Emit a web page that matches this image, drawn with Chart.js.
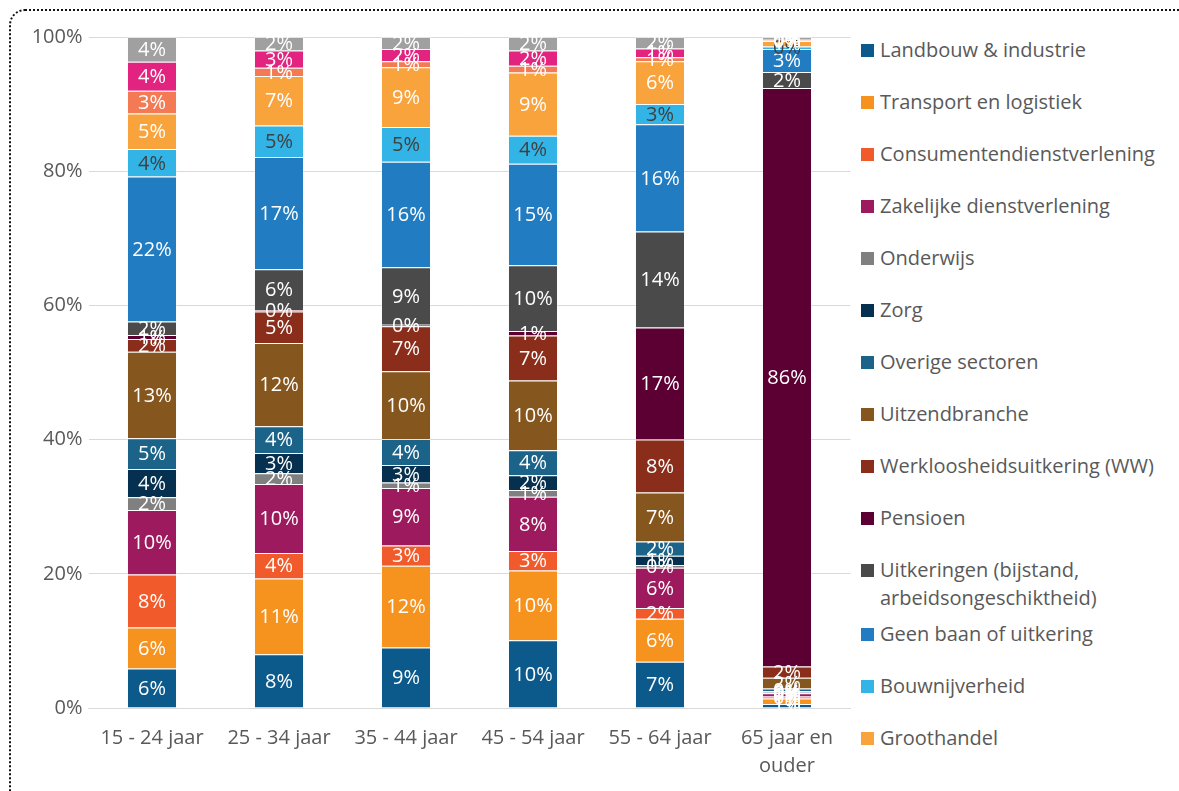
<!DOCTYPE html>
<html lang="nl">
<head>
<meta charset="utf-8">
<title>Uitstroom naar leeftijd</title>
<script src="https://cdn.jsdelivr.net/npm/chart.js@4.4.1/dist/chart.umd.min.js"></script>
<style>
    html, body { margin: 0; padding: 0; background: #fff; overflow: hidden; }
    body { width: 1179px; height: 791px; position: relative; font-family: "Open Sans", Lato, sans-serif; }
    .frame {
        position: absolute; left: 9px; top: 9px; width: 1200px; height: 820px;
        border: 2px dotted #111; border-radius: 16px; box-sizing: border-box;
    }
    .chart-box { position: absolute; left: 0; top: 0; width: 860px; height: 791px; }
    #legend { position: absolute; left: 861px; top: 36px; margin: 0; padding: 0; list-style: none; }
    #legend li { display: flex; align-items: flex-start; height: 52px; color: #595959; font-size: 20px; line-height: 28px; white-space: nowrap; }
    #legend li.two { height: 64px; }
    #legend .box { width: 13px; height: 13px; margin-top: 8px; margin-right: 6px; flex: none; }
</style>
</head>
<body>
<div class="frame"></div>
<div class="chart-box"><canvas id="chart"></canvas></div>
<ul id="legend"></ul>

<script>
// ─────────────────────────────────────────────
// Data — shares (%) per age group, stacked bottom → top
// ─────────────────────────────────────────────
const categories = ["15 - 24 jaar", "25 - 34 jaar", "35 - 44 jaar", "45 - 54 jaar", "55 - 64 jaar", ["65 jaar en", "ouder"]];
const yTicks = [0, 20, 40, 60, 80, 100];

const landbouw     = [5.9, 8.0, 9.0, 10.1, 6.9, 0.6];
const transport    = [6.1, 11.3, 12.2, 10.4, 6.4, 0.8];
const consument    = [7.9, 3.8, 3.0, 2.9, 1.6, 0.3];
const zakelijk     = [9.6, 10.3, 8.6, 8.1, 6.0, 0.5];
const onderwijs    = [1.9, 1.6, 0.8, 1.0, 0.4, 0.1];
const zorg         = [4.2, 3.0, 2.6, 2.2, 1.4, 0.2];
const overige      = [4.6, 4.0, 3.9, 3.7, 2.1, 0.4];
const uitzend      = [12.9, 12.4, 10.1, 10.4, 7.3, 1.6];
const ww           = [1.9, 4.7, 6.7, 6.7, 7.9, 1.7];
const pensioen     = [0.6, 0.2, 0.2, 0.7, 16.7, 86.2];
const uitkeringen  = [2.0, 6.1, 8.6, 9.8, 14.3, 2.4];
const geenBaan     = [21.6, 16.7, 15.7, 15.1, 16.0, 3.4];
const bouw         = [4.1, 4.7, 5.2, 4.2, 3.0, 0.4];
const groothandel  = [5.3, 7.4, 8.9, 9.4, 6.4, 0.8];
const detailhandel = [3.4, 1.2, 0.9, 1.0, 0.6, 0.1];
const horeca       = [4.3, 2.6, 1.8, 2.3, 1.3, 0.1];
const overheid     = [3.7, 2.0, 1.8, 2.0, 1.7, 0.4];

const seriesNames = [
    "Landbouw & industrie", "Transport en logistiek", "Consumentendienstverlening",
    "Zakelijke dienstverlening", "Onderwijs", "Zorg", "Overige sectoren", "Uitzendbranche",
    "Werkloosheidsuitkering (WW)", "Pensioen", ["Uitkeringen (bijstand,", "arbeidsongeschiktheid)"],
    "Geen baan of uitkering", "Bouwnijverheid", "Groothandel",
    "Detailhandel", "Horeca", "Overheid",
];
const seriesValues = [
    landbouw, transport, consument, zakelijk, onderwijs, zorg, overige, uitzend,
    ww, pensioen, uitkeringen, geenBaan, bouw, groothandel, detailhandel, horeca, overheid,
];
const LEGEND_COUNT = 14;   // the rest of the legend falls outside the picture

// ─────────────────────────────────────────────
// Colours
// ─────────────────────────────────────────────
const COLORS = [
    "#0C5A8C", "#F6921E", "#F15A2B", "#9E1A5E", "#808080", "#06304F", "#1B6389", "#85561E",
    "#8A2E1B", "#5C0033", "#4A4A4A", "#217CC1", "#33B4E6", "#F9A33D", "#F47A55", "#E2237F", "#A0A0A0",
];
const LABEL_COLORS = COLORS.map((c, i) => i === 12 ? "#404040" : "#FFFFFF");
const TEXT = "#595959";
const FONT = { family: "'Open Sans', Lato, sans-serif", size: 20, lineHeight: 1.4 };

// ─────────────────────────────────────────────
// Percent labels inside every segment
// ─────────────────────────────────────────────
const segmentLabels = {
    id: "segmentLabels",
    afterDatasetsDraw(chart) {
        const ctx = chart.ctx;
        ctx.save();
        ctx.font = `${FONT.size}px ${FONT.family}`;
        ctx.textAlign = "center";
        ctx.textBaseline = "middle";
        chart.data.datasets.forEach((ds, di) => {
            const meta = chart.getDatasetMeta(di);
            ctx.fillStyle = LABEL_COLORS[di];
            meta.data.forEach((bar, i) => {
                const v = ds.data[i];
                ctx.fillText(Math.round(v) + "%", bar.x, (bar.y + bar.base) / 2 + 1);
            });
        });
        ctx.restore();
    }
};

new Chart(document.getElementById("chart"), {
    type: "bar",
    data: {
        labels: categories,
        datasets: seriesValues.map((vals, i) => ({
            label: seriesNames[i],
            data: vals,
            backgroundColor: COLORS[i],
            borderColor: "rgba(255,255,255,0.3)",
            borderWidth: 1,
            barPercentage: 0.394,
            categoryPercentage: 1,
        }))
    },
    options: {
        responsive: true,
        maintainAspectRatio: false,
        animation: false,
        layout: { padding: { top: 37, right: 9.5, bottom: 0, left: 0 } },
        plugins: { legend: { display: false }, tooltip: { enabled: false } },
        scales: {
            x: {
                stacked: true,
                grid: { display: false, drawTicks: false },
                border: { color: "#D9D9D9" },
                ticks: { color: TEXT, font: FONT, padding: 16, maxRotation: 0 },
                afterFit: s => { s.height = 83; },
            },
            y: {
                stacked: true,
                min: 0, max: 100,
                afterBuildTicks: s => { s.ticks = yTicks.map(v => ({ value: v })); },
                grid: { color: "#D9D9D9", drawTicks: false },
                border: { display: false },
                ticks: { color: TEXT, font: FONT, padding: 6, callback: v => v + "%" },
                afterFit: s => { s.width = 88.5; },
            }
        }
    },
    plugins: [segmentLabels]
});

// ─────────────────────────────────────────────
// Legend (right side)
// ─────────────────────────────────────────────
document.getElementById("legend").innerHTML = seriesNames.slice(0, LEGEND_COUNT).map((name, i) => {
    const lines = Array.isArray(name) ? name : [name];
    return `<li class="${lines.length > 1 ? "two" : ""}">
        <span class="box" style="background:${COLORS[i]}"></span>
        <span>${lines.join("<br>")}</span>
    </li>`;
}).join("");
</script>
</body>
</html>
